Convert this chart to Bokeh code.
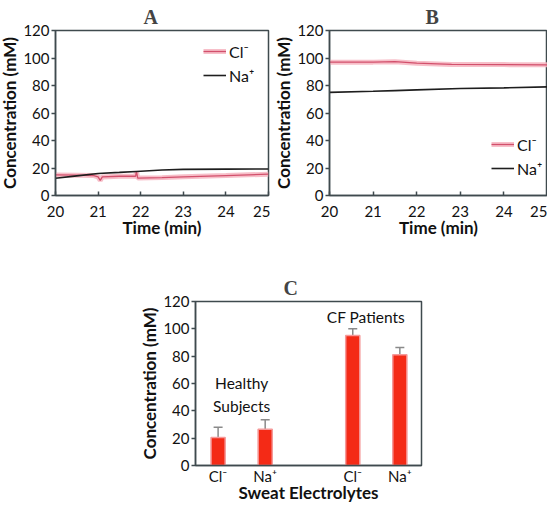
from bokeh.plotting import figure
from bokeh.layouts import column, row, Spacer
from bokeh.models import Range1d, Legend, LegendItem, Whisker, ColumnDataSource, FixedTicker, TeeHead
from bokeh.core.properties import value
from bokeh.embed import file_html
from bokeh.resources import INLINE

# ---------------- data ----------------
# Panel A (healthy subject, time trace)
a_time_cl = [20.0, 20.5, 20.9, 21.0, 21.05, 21.1, 21.5, 21.88, 21.9, 21.93, 22.5, 23.0, 24.0, 25.0]
a_cl = [15.0, 14.8, 14.5, 13.5, 11.0, 13.5, 14.0, 14.0, 17.5, 12.7, 13.0, 13.6, 14.5, 15.5]
a_time_na = [20.0, 20.5, 21.0, 21.5, 21.9, 22.5, 23.0, 24.0, 25.0]
a_na = [12.5, 14.3, 16.0, 16.8, 17.5, 18.5, 19.0, 19.2, 19.3]

# Panel B (CF patient, time trace)
b_time_cl = [20.0, 21.0, 21.5, 22.0, 22.8, 24.0, 25.0]
b_cl = [97.0, 97.0, 97.3, 96.2, 95.3, 95.2, 95.0]
b_time_na = [20.0, 21.0, 21.5, 22.0, 23.0, 24.0, 25.0]
b_na = [75.0, 75.8, 76.3, 76.8, 77.8, 78.3, 79.0]

# Panel C (bar chart)
c_groups = ["Healthy Subjects", "CF Patients"]
c_ions = ["Cl⁻", "Na⁺", "Cl⁻", "Na⁺"]
c_group_of = [0, 0, 1, 1]
c_means = [20.5, 26.6, 95.2, 81.0]
c_errs = [7.5, 6.8, 4.8, 5.4]

x_ticks = [20, 21, 22, 23, 24, 25]
y_ticks = [0, 20, 40, 60, 80, 100, 120]

# ---------------- style ----------------
FONT = "Lato"
TITLE_FONT = "Liberation Serif"
AXIS_COL = "#3f4a4e"
TEXT_COL = "#111111"
PINK_WIDE = "#f6b4c0"
PINK_THIN = "#d2506c"
BLACK = "#1e1e1e"


def style(p, title_offset):
    p.outline_line_color = AXIS_COL
    p.outline_line_width = 1.5
    p.xgrid.visible = False
    p.ygrid.visible = False
    for ax in (p.xaxis[0], p.yaxis[0]):
        ax.axis_line_color = AXIS_COL
        ax.axis_line_width = 1.5
        ax.major_tick_line_color = AXIS_COL
        ax.major_tick_line_width = 1.5
        ax.minor_tick_line_color = None
        ax.major_label_text_font = FONT
        ax.major_label_text_font_size = "15px"
        ax.major_label_text_color = TEXT_COL
        ax.axis_label_text_font = FONT
        ax.axis_label_text_font_size = "17px"
        ax.axis_label_text_font_style = "bold"
        ax.axis_label_text_color = TEXT_COL
        ax.major_label_standoff = 2
        ax.axis_label_standoff = 0
    p.xaxis[0].major_tick_in = 4
    p.xaxis[0].major_tick_out = 0
    p.xaxis[0].major_label_standoff = 10
    p.xaxis[0].axis_label_standoff = -3
    p.yaxis[0].major_tick_in = 0
    p.yaxis[0].major_tick_out = 4
    p.yaxis[0].ticker = FixedTicker(ticks=y_ticks)
    p.yaxis[0].axis_label = "Concentration (mM)"
    p.title.text_font = TITLE_FONT
    p.title.text_font_size = "20px"
    p.title.text_font_style = "bold"
    p.title.align = "left"
    p.title.offset = title_offset
    p.title.standoff = 6


def trace_panel(title, w, h, tcl, cl, tna, na, legend_xy, borders, title_offset):
    p = figure(width=w, height=h, x_range=Range1d(20, 25), y_range=Range1d(0, 120),
               output_backend="svg", toolbar_location=None, title=title,
               min_border_left=borders[0], min_border_right=borders[1],
               min_border_top=borders[2], min_border_bottom=borders[3])
    style(p, title_offset)
    p.xaxis[0].ticker = FixedTicker(ticks=x_ticks)
    p.xaxis[0].axis_label = "Time (min)"
    r1 = p.line(tcl, cl, line_color=PINK_WIDE, line_width=5, line_alpha=0.85)
    r2 = p.line(tcl, cl, line_color=PINK_THIN, line_width=1.3)
    r3 = p.line(tna, na, line_color=BLACK, line_width=1.6)
    leg = Legend(items=[LegendItem(label="Cl⁻", renderers=[r1, r2]),
                        LegendItem(label="Na⁺", renderers=[r3])],
                 location=legend_xy, border_line_color=None, background_fill_alpha=0,
                 label_text_font=FONT, label_text_font_size="16px", label_text_color=TEXT_COL,
                 glyph_width=23, glyph_height=20, label_standoff=3, label_height=20,
                 spacing=4, padding=4, margin=0)
    p.add_layout(leg)
    return p


pA = trace_panel("A", 274, 241, a_time_cl, a_cl, a_time_na, a_na, (148, 110),
                 (43, 2, 21, 46), 88)
pB = trace_panel("B", 277, 241, b_time_cl, b_cl, b_time_na, b_na, (162, 17),
                 (59, 0, 23, 46), 96)

# ---------------- panel C ----------------
group_gap = 0.86
first_pos = 0.48
c_pos = [round(first_pos + i + group_gap * g, 2) for i, g in enumerate(c_group_of)]
c_upper = [m + e for m, e in zip(c_means, c_errs)]

pC = figure(width=289, height=264, x_range=Range1d(0, 4.8), y_range=Range1d(0, 120),
            output_backend="svg", toolbar_location=None, title="C",
            min_border_left=58, min_border_right=4, min_border_top=60, min_border_bottom=30)
style(pC, 88)
pC.xaxis[0].ticker = FixedTicker(ticks=c_pos)
pC.xaxis[0].major_label_overrides = {p_: lab for p_, lab in zip(c_pos, c_ions)}
pC.xaxis[0].major_tick_in = 0
pC.xaxis[0].major_label_standoff = 1
pC.xaxis[0].axis_label = "Sweat Electrolytes"
pC.xaxis[0].axis_label_standoff = -6

src = ColumnDataSource(dict(x=c_pos, top=c_means, upper=c_upper))
pC.add_layout(Whisker(source=src, base="x", upper="upper", lower="top",
                      line_color="#8a8a8a", line_width=1.5,
                      upper_head=TeeHead(size=9, line_color="#8a8a8a", line_width=1.5),
                      lower_head=None))
pC.vbar(x="x", top="top", width=0.3, source=src, fill_color="#f42a16",
        line_color="#f59a9a", line_width=1.5)

# group labels
healthy_x = (c_pos[0] + c_pos[1]) / 2
cf_x = (c_pos[2] + c_pos[3]) / 2 - 0.22
pC.text(x=[healthy_x, healthy_x], y=[60.5, 43.5], text=["Healthy", "Subjects"],
        text_font=value(FONT), text_font_size="15.5px", text_color=TEXT_COL,
        text_align="center", text_baseline="middle")
pC.text(x=[cf_x], y=[108.5], text=[c_groups[1]],
        text_font=value(FONT), text_font_size="15.5px", text_color=TEXT_COL,
        text_align="center", text_baseline="middle")

layout = column(row(pA, pB), row(Spacer(width=140, height=264), pC),
                styles={"margin-left": "-4px"})
open("out.html", "w").write(file_html(layout, INLINE))
